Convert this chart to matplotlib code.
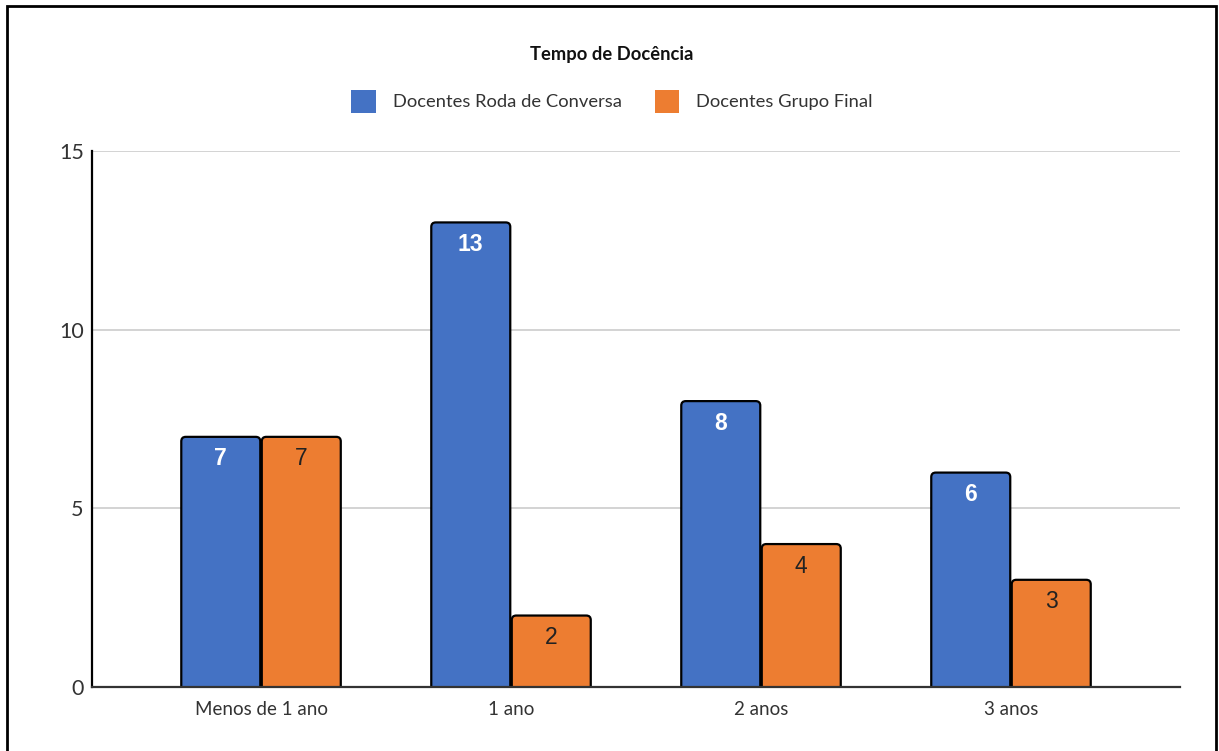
import matplotlib
matplotlib.use("Agg")
import matplotlib.pyplot as plt
from matplotlib.patches import FancyBboxPatch, Rectangle, Patch
import numpy as np

categories = ["Menos de 1 ano", "1 ano", "2 anos", "3 anos"]
roda_conversa = [7, 13, 8, 6]
grupo_final = [7, 2, 4, 3]
series_names = ["Docentes Roda de Conversa", "Docentes Grupo Final"]
yticks = [0, 5, 10, 15]
title = "Tempo de Docência"

BLUE = "#4472C4"
ORANGE = "#ED7D31"
TEXT_FONT = ["Lato", "DejaVu Sans"]
LABEL_FONT = ["Liberation Sans", "DejaVu Sans"]

fig = plt.figure(figsize=(12.19, 7.51), dpi=100)
ax = fig.add_axes([0.0755, 0.0852, 0.8925, 0.7138])

x = np.arange(len(categories))
width = 0.316
offset = 0.161

ax.set_xlim(-0.676, 3.676)
ax.set_ylim(0, 15)

# px-per-unit ratio between the axes, used to keep corner rounding circular
bbox = ax.get_position()
fw, fh = fig.get_size_inches() * fig.dpi
x_per_px = (ax.get_xlim()[1] - ax.get_xlim()[0]) / (bbox.width * fw)
y_per_px = (ax.get_ylim()[1] - ax.get_ylim()[0]) / (bbox.height * fh)
aspect = y_per_px / x_per_px


def rounded_bars(xs, values, color, label_color, bold, size):
    bars = ax.bar(xs, values, width=width, color=color, edgecolor="black",
                  linewidth=1.6, zorder=3)
    for rect, v in zip(bars, values):
        rect.set_visible(False)
        x0, w, h = rect.get_x(), rect.get_width(), rect.get_height()
        patch = FancyBboxPatch((x0, -1), w, h + 1,
                               boxstyle="round,pad=0,rounding_size=0.018",
                               mutation_aspect=aspect,
                               facecolor=color, edgecolor="black",
                               linewidth=1.6, zorder=3, clip_on=True)
        ax.add_patch(patch)
        ax.annotate(f"{v}", (x0 + w / 2, h), xytext=(0, -22),
                    textcoords="offset pixels",
                    ha="center", va="center", color=label_color,
                    fontsize=size, fontweight="bold" if bold else "normal",
                    family=LABEL_FONT, zorder=4)


rounded_bars(x - offset, roda_conversa, BLUE, "white", True, 16.5)
rounded_bars(x + offset, grupo_final, ORANGE, "#222222", False, 16.5)

ax.set_yticks(yticks)
ax.set_yticklabels([str(t) for t in yticks], family=TEXT_FONT, fontsize=15.5,
                   color="#333333")
ax.set_xticks(x)
ax.set_xticklabels(categories, family=TEXT_FONT, fontsize=13.5, color="#333333")
ax.tick_params(axis="both", length=0)
ax.tick_params(axis="y", pad=6)
ax.tick_params(axis="x", pad=10)

ax.grid(axis="y", color="#cccccc", linewidth=1.2, zorder=0)
ax.set_axisbelow(True)
for side in ["top", "right"]:
    ax.spines[side].set_visible(False)
ax.spines["left"].set_color("black")
ax.spines["left"].set_linewidth(1.6)
ax.spines["bottom"].set_color("#333333")
ax.spines["bottom"].set_linewidth(1.6)
ax.spines["bottom"].set_zorder(5)

fig.text(0.502, 0.927, title, ha="center", va="center", family=TEXT_FONT,
         fontsize=13.2, fontweight="bold", color="#111111")

handles = [Patch(facecolor=BLUE, edgecolor="none"),
           Patch(facecolor=ORANGE, edgecolor="none")]
leg = fig.legend(handles, series_names, loc="center", bbox_to_anchor=(0.502, 0.865),
                 ncol=2, frameon=False, handlelength=1.35, handleheight=1.6,
                 handletextpad=0.9, columnspacing=1.8,
                 prop={"family": TEXT_FONT, "size": 13.2})
for t in leg.get_texts():
    t.set_color("#333333")

# outer frame around the figure (open at the bottom)
frame = Rectangle((0.0057, -0.05), 0.9920, 1.042, transform=fig.transFigure,
                  fill=False, edgecolor="black", linewidth=2)
fig.patches.append(frame)

fig.savefig("out.png", dpi=100, facecolor="white")
